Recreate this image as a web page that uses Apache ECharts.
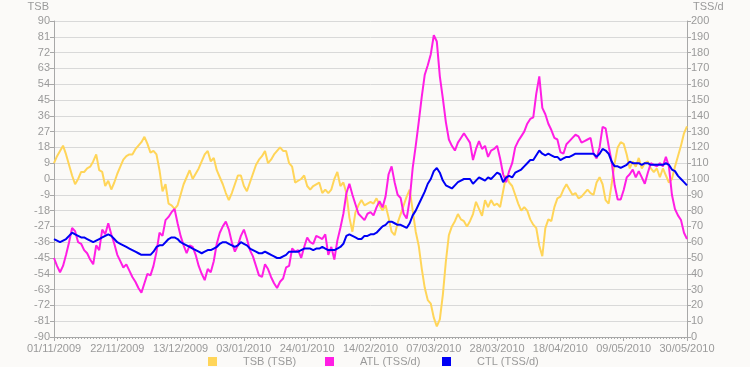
<!DOCTYPE html>
<html>
<head>
<meta charset="utf-8">
<script src="https://cdn.jsdelivr.net/npm/echarts@6/dist/echarts.min.js"></script>
<style>
html,body{margin:0;padding:0;background:#fbfaf8;}
#chart{width:750px;height:367px;}
</style>
</head>
<body>
<div id="chart"></div>
<script>
// Start date and day count for the category axis (01/11/2009 .. 30/05/2010)
const startDate = [2009, 10, 1]; // year, monthIndex, day
const dayCount = 211;

// Left axis ticks (TSB) and right axis ticks (TSS/d)
const tsbTicks = { min: -90, max: 90, step: 9 };
const tssTicks = { min: 0, max: 200, step: 10 };

// Series names
const seriesNames = ['TSB (TSB)', 'ATL (TSS/d)', 'CTL (TSS/d)'];

// TSB (left axis)
const tsb = [
  9, 13, 16, 19, 14, 8, 2, -3, 0, 4,
  4, 6, 7, 10, 14, 5, 4, -4, -1, -6,
  -2, 3, 7, 11, 13, 14, 14, 17, 19, 21,
  24, 20, 15, 16, 14, 5, -7, -3, -14, -15,
  -17, -15, -9, -3, 1, 5, 0, 3, 6, 10,
  14, 16, 10, 12, 5, 1, -3, -8, -12, -8,
  -3, 2, 2, -4, -7, -2, 3, 8, 11, 13,
  16, 9, 11, 14, 16, 18, 16, 16, 9, 7,
  -2, -1, 0, 2, -4, -6, -4, -3, -2, -8,
  -6, -8, -6, 0, 4, -4, -2, -8, -22, -30,
  -19, -15, -12, -15, -14, -13, -14, -11, -15, -18,
  -15, -22, -30, -32, -25, -20, -15, -10, -6, -18,
  -30, -38, -51, -62, -69, -71, -79, -84, -80, -66,
  -47, -32, -27, -24, -20, -23, -24, -27, -24, -20,
  -13, -17, -21, -12, -16, -12, -15, -14, -16, -7,
  2, -2, -4, -9, -14, -18, -16, -18, -23, -26,
  -28, -38, -44, -28, -23, -24, -16, -11, -10, -6,
  -3, -6, -9, -8, -11, -10, -8, -6, -8, -9,
  -2, 1, -3, -12, -14, -3, 9, 18, 21, 20,
  14, 6, 10, 7, 12, 6, 9, 10, 6, 4,
  6, 1, 6, 2, -2, 0, 7, 13, 19, 26,
  30
];

// ATL (right axis)
const atl = [
  50, 45, 41, 45, 52, 60, 69, 67, 60, 59,
  55, 53, 49, 46, 58, 55, 68, 65, 72, 65,
  59, 52, 48, 44, 46, 42, 38, 35, 31, 28,
  34, 40, 39, 45, 54, 66, 64, 74, 76, 79,
  81, 72, 64, 58, 53, 58, 57, 52, 45, 40,
  36, 43, 41, 48, 59, 66, 70, 73, 68, 60,
  54, 58, 64, 68, 62, 55, 51, 45, 39, 38,
  46, 43, 38, 34, 31, 35, 37, 44, 45, 56,
  54, 55, 50, 57, 63, 60, 59, 64, 63, 62,
  65, 52, 57, 49, 61, 69, 78, 91, 97, 90,
  84, 78, 76, 74, 78, 79, 77, 82, 86, 82,
  89, 103, 108, 98, 90, 88, 78, 75, 87, 107,
  121, 136, 152, 166, 172, 179, 191, 187, 165, 151,
  136, 125, 121, 118, 123, 126, 129, 126, 123, 112,
  119, 124, 119, 121, 114, 118, 119, 121, 113, 103,
  98, 105, 110, 120, 124, 127, 130, 135, 138, 139,
  154, 165, 145, 141, 135, 131, 126, 125, 117, 116,
  122, 124, 126, 128, 127, 123, 124, 125, 126, 116,
  113, 120, 133, 132, 121, 111, 96, 87, 87, 93,
  101, 103, 106, 101, 105, 101, 97, 104, 110, 109,
  108, 110, 108, 114, 108, 90, 81, 77, 74, 66,
  62
];

// CTL (right axis)
const ctl = [
  62, 61, 60, 61, 62, 64, 66, 65, 64, 63,
  63, 62, 61, 60, 61, 62, 63, 64, 65, 64,
  62, 60, 59, 58, 57, 56, 55, 54, 53, 52,
  52, 52, 52, 54, 57, 58, 58, 60, 62, 63,
  63, 62, 60, 59, 58, 57, 56, 55, 54, 53,
  54, 55, 55, 56, 57, 59, 60, 60, 59, 58,
  57, 58, 60, 59, 58, 56, 55, 54, 53, 53,
  54, 53, 52, 51, 50, 50, 51, 52, 54, 54,
  54, 54, 55, 56, 56, 56, 55, 56, 56, 57,
  56, 55, 55, 55, 56, 57, 59, 64, 65, 64,
  63, 62, 62, 64, 64, 65, 65, 66, 68, 70,
  71, 73, 73, 72, 71, 71, 70, 69, 72, 77,
  80, 84, 88, 92, 97, 100, 105, 107, 104, 99,
  96, 95, 94, 96, 98, 99, 100, 100, 100, 97,
  99, 101, 100, 99, 101, 100, 102, 104, 103, 98,
  101, 102, 101, 104, 105, 106, 108, 110, 112, 112,
  115, 118, 116, 115, 116, 115, 114, 114, 112, 113,
  114, 114, 115, 116, 116, 116, 116, 116, 116, 116,
  114, 116, 119, 118, 116, 111, 108, 108, 107, 108,
  109, 111, 110, 110, 110, 109, 110, 110, 109, 109,
  109, 109, 109, 110, 109, 106, 105, 102, 100, 98,
  96
];

const colors = ['#ffd559', '#ff1ee4', '#0000f5'];

function pad(n) { return (n < 10 ? '0' : '') + n; }
const dates = [];
for (let i = 0; i < dayCount; i++) {
  const d = new Date(Date.UTC(startDate[0], startDate[1], startDate[2] + i));
  dates.push(pad(d.getUTCDate()) + '/' + pad(d.getUTCMonth() + 1) + '/' + d.getUTCFullYear());
}

const font = 'Liberation Sans, Arial, sans-serif';
const textColor = '#9a9a9a';
const axisColor = '#a8a8a8';

const chart = echarts.init(document.getElementById('chart'), null, { renderer: 'canvas' });

function legendAt(left, name) {
  return {
    left: left, top: 351, padding: 5,
    data: [{ name: name, icon: 'rect' }],
    itemWidth: 9, itemHeight: 9,
    selectedMode: false,
    textStyle: { color: textColor, fontFamily: font, fontSize: 11, padding: [0, 0, 0, 21] }
  };
}

chart.setOption({
  backgroundColor: '#fbfaf8',
  animation: false,
  color: colors,
  grid: { left: 54, right: 63, top: 21, bottom: 30 },
  legend: [legendAt(203, seriesNames[0]), legendAt(320, seriesNames[1]), legendAt(437, seriesNames[2])],
  xAxis: [
    {
      type: 'category', data: dates, boundaryGap: false,
      axisLine: { onZero: false, lineStyle: { color: axisColor, width: 1 } },
      axisTick: { show: true, interval: 0, length: 2, lineStyle: { color: axisColor } },
      axisLabel: { interval: 20, color: textColor, fontFamily: font, fontSize: 11, margin: 6, showMaxLabel: true },
      splitLine: { show: false }
    },
    {
      type: 'category', data: dates, boundaryGap: false, position: 'bottom',
      axisLine: { show: false, onZero: false },
      axisTick: { show: true, interval: 20, length: 4, lineStyle: { color: axisColor } },
      axisLabel: { show: false },
      splitLine: { show: false }
    }
  ],
  yAxis: [
    {
      type: 'value', min: tsbTicks.min, max: tsbTicks.max, interval: tsbTicks.step,
      name: 'TSB', nameLocation: 'end', nameGap: 9,
      nameTextStyle: { color: textColor, fontFamily: font, fontSize: 11, align: 'right', padding: [0, 5, 0, 0] },
      axisLine: { show: true, lineStyle: { color: axisColor } },
      axisTick: { show: true, length: 4, lineStyle: { color: axisColor } },
      axisLabel: { color: textColor, fontFamily: font, fontSize: 11, margin: 4 },
      splitLine: { show: true, lineStyle: { color: '#d9d9d9', width: 1 } }
    },
    {
      type: 'value', min: tssTicks.min, max: tssTicks.max, interval: tssTicks.step,
      name: 'TSS/d', nameLocation: 'end', nameGap: 9, position: 'right',
      nameTextStyle: { color: textColor, fontFamily: font, fontSize: 11, align: 'left', padding: [0, 0, 0, 6] },
      axisLine: { show: true, lineStyle: { color: axisColor } },
      axisTick: { show: true, length: 4, lineStyle: { color: axisColor } },
      axisLabel: { color: textColor, fontFamily: font, fontSize: 11, margin: 4 },
      splitLine: { show: false }
    }
  ],
  series: [
    { name: seriesNames[0], type: 'line', yAxisIndex: 0, data: tsb, showSymbol: false,
      lineStyle: { width: 2, color: colors[0] }, itemStyle: { color: colors[0] }, z: 2 },
    { name: seriesNames[1], type: 'line', yAxisIndex: 1, data: atl, showSymbol: false,
      lineStyle: { width: 2, color: colors[1] }, itemStyle: { color: colors[1] }, z: 3 },
    { name: seriesNames[2], type: 'line', yAxisIndex: 1, data: ctl, showSymbol: false,
      lineStyle: { width: 2, color: colors[2] }, itemStyle: { color: colors[2] }, z: 4 }
  ]
});
</script>
</body>
</html>
